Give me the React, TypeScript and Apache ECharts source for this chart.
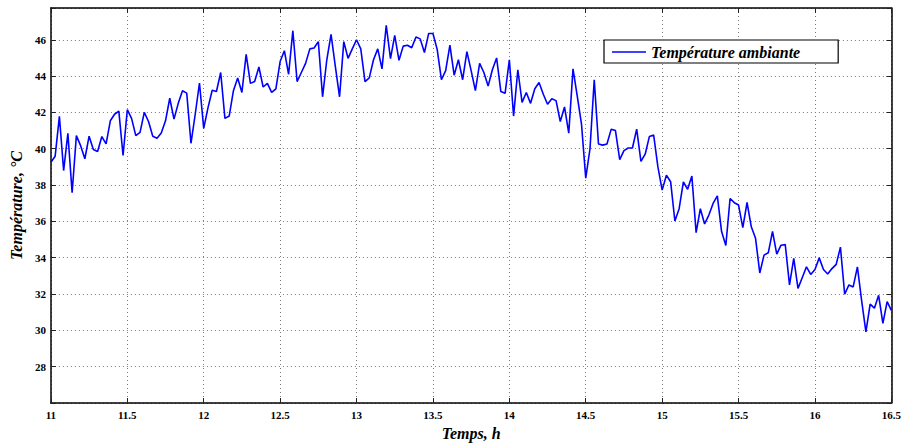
import React, { useEffect, useRef } from "react";
import * as echarts from "echarts";

// Ambient temperature, one reading every 100 s from 11 h to 16.5 h
const timeStart = 11;
const timeEnd = 16.5;
const temperature: number[] = [
  39.26, 39.59, 41.78, 38.8, 40.85, 37.58, 40.72, 40.17, 39.45, 40.69,
  39.96, 39.85, 40.67, 40.27, 41.54, 41.9, 42.07, 39.63, 42.15, 41.67,
  40.72, 40.9, 42.0, 41.5, 40.69, 40.58, 40.87, 41.54, 42.78, 41.63,
  42.5, 43.19, 43.06, 40.3, 41.9, 43.62, 41.12, 42.25, 43.22, 43.15,
  44.2, 41.67, 41.8, 43.2, 43.9, 43.1, 45.2, 43.6, 43.7, 44.5,
  43.4, 43.6, 43.1, 43.3, 44.8, 45.4, 44.1, 46.5, 43.7, 44.2,
  44.7, 45.5, 45.55, 45.9, 42.86, 44.9, 46.3, 44.55, 42.86, 45.9,
  44.98, 45.5, 46.0, 45.5, 43.7, 43.9, 44.9, 45.5, 44.4, 46.8,
  44.96, 46.24, 44.87, 45.65, 45.7, 45.56, 46.15, 46.05, 45.3, 46.35,
  46.35, 45.47, 43.8, 44.3, 45.7, 44.05, 44.9, 43.8, 45.35, 44.3,
  43.2, 44.7, 44.2, 43.45, 44.35, 45.0, 43.15, 43.05, 44.9, 41.8,
  44.35, 42.55, 43.1, 42.5, 43.3, 43.65, 43.0, 42.45, 42.75, 42.65,
  41.5, 42.3, 40.86, 44.4, 42.9, 41.35, 38.38, 40.0, 43.8, 40.26,
  40.2, 40.26, 41.08, 41.0, 39.4, 39.9, 40.04, 40.04, 41.08, 39.3,
  39.7, 40.68, 40.75, 39.0, 37.72, 38.54, 38.18, 36.02, 36.7, 38.18,
  37.77, 38.5, 35.38, 36.7, 35.86, 36.35, 36.99, 37.4, 35.44, 34.67,
  37.26, 37.03, 36.9, 35.66, 37.04, 35.7, 35.07, 33.16, 34.14, 34.27,
  35.45, 34.2, 34.69, 34.72, 32.5, 33.96, 32.31, 32.9, 33.5, 33.08,
  33.35, 33.99, 33.35, 33.1, 33.4, 33.63, 34.58, 31.99, 32.5, 32.39,
  33.5, 31.62, 29.92, 31.44, 31.22, 31.93, 30.38, 31.58, 31.1,
];

const xTickStep = 0.5;
const yMin = 26;
const yMax = 47.75;
const yTickStep = 2;
const yLabelMax = 46;

const seriesName = "Température ambiante";
const xTitle = "Temps, h";
const yTitle = "Température, °C";

const FONT = "'Liberation Serif', 'Times New Roman', serif";

export default function App() {
  const ref = useRef<HTMLDivElement>(null);

  useEffect(() => {
    if (!ref.current) return;
    const chart = echarts.init(ref.current, null, { renderer: "svg" });
    const step = (timeEnd - timeStart) / (temperature.length - 1);
    const points = temperature.map((v, i) => [timeStart + i * step, v]);

    const gridLine = {
      show: true,
      lineStyle: { color: "#7a7a7a", width: 1, type: [1, 3] as number[] },
    };
    const axisLine = { show: true, onZero: false, lineStyle: { color: "#000", width: 1.5 } };
    const tick = { show: true, inside: true, length: 5, lineStyle: { color: "#222", width: 1 } };
    const label = { fontFamily: FONT, fontWeight: "bold" as const, fontSize: 11, color: "#000" };
    const titleStyle = { fontFamily: FONT, fontWeight: "bold" as const, fontStyle: "italic" as const, fontSize: 16, color: "#000" };

    chart.setOption({
      animation: false,
      backgroundColor: "#fff",
      grid: { left: 45, right: 12, top: 8, bottom: 42, containLabel: false },
      legend: {
        show: true,
        left: 604,
        top: 40,
        orient: "horizontal",
        backgroundColor: "#fff",
        borderColor: "#000",
        borderWidth: 1.2,
        padding: [4, 38, 3, 8],
        icon: "rect",
        itemWidth: 34,
        itemHeight: 1.5,
        itemGap: 0,
        itemTextGap: 10,
        textStyle: titleStyle,
        data: [seriesName],
      },
      xAxis: [
        {
          type: "value",
          min: timeStart,
          max: timeEnd,
          interval: xTickStep,
          position: "bottom",
          name: xTitle,
          nameLocation: "middle",
          nameGap: 22,
          nameTextStyle: titleStyle,
          axisLine,
          axisTick: tick,
          splitLine: gridLine,
          axisLabel: { ...label, margin: 6 },
        },
        {
          type: "value",
          min: timeStart,
          max: timeEnd,
          interval: xTickStep,
          position: "top",
          axisLine,
          axisTick: tick,
          splitLine: { show: false },
          axisLabel: { show: false },
        },
      ],
      yAxis: [
        {
          type: "value",
          min: yMin,
          max: yMax,
          interval: yTickStep,
          position: "left",
          name: yTitle,
          nameLocation: "middle",
          nameGap: 22,
          nameRotate: 90,
          nameTextStyle: titleStyle,
          axisLine,
          axisTick: tick,
          splitLine: gridLine,
          axisLabel: {
            ...label,
            margin: 5,
            formatter: (v: number) => (v <= yMin || v > yLabelMax ? "" : String(v)),
          },
        },
        {
          type: "value",
          min: yMin,
          max: yMax,
          interval: yTickStep,
          position: "right",
          axisLine,
          axisTick: tick,
          splitLine: { show: false },
          axisLabel: { show: false },
        },
      ],
      series: [
        {
          name: seriesName,
          type: "line",
          xAxisIndex: 0,
          yAxisIndex: 0,
          data: points,
          showSymbol: false,
          symbol: "none",
          lineStyle: { color: "#0000ff", width: 1.6 },
          itemStyle: { color: "#0000ff" },
        },
      ],
    });

    return () => chart.dispose();
  }, []);

  return (
    <div
      ref={ref}
      style={{ position: "fixed", left: 0, top: 0, width: 904, height: 446, background: "#fff" }}
    />
  );
}
